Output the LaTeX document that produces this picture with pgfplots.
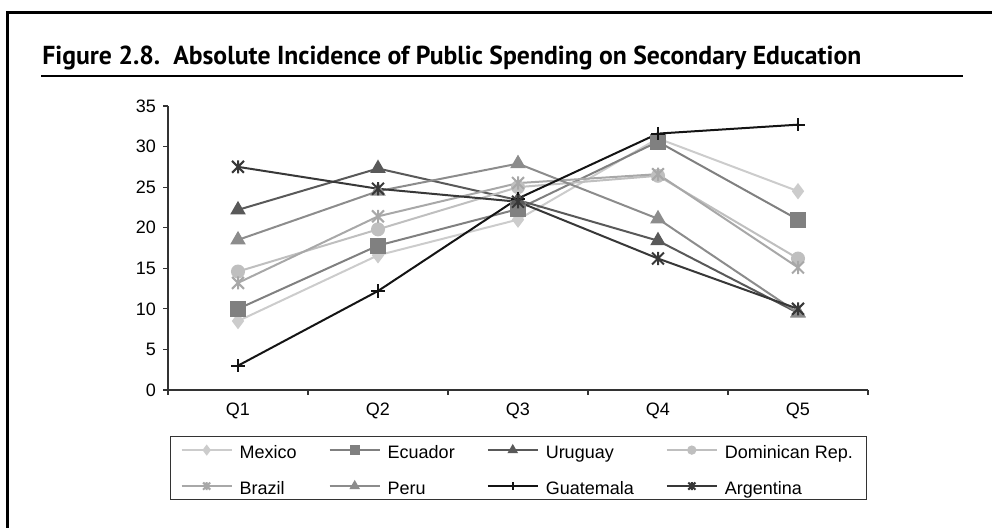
\documentclass[border=0pt]{standalone}
\usepackage{graphicx}
\usepackage{pgfplots}
\pgfplotsset{compat=1.18}
\usepackage{fontspec}
\setmainfont{Liberation Sans}
\newfontfamily\titlefont{PT Sans}
\usetikzlibrary{plotmarks}

% six-armed star: an X with a vertical bar
\pgfdeclareplotmark{xstar}{%
  \pgfpathmoveto{\pgfqpoint{-0.9\pgfplotmarksize}{-0.9\pgfplotmarksize}}%
  \pgfpathlineto{\pgfqpoint{0.9\pgfplotmarksize}{0.9\pgfplotmarksize}}%
  \pgfpathmoveto{\pgfqpoint{-0.9\pgfplotmarksize}{0.9\pgfplotmarksize}}%
  \pgfpathlineto{\pgfqpoint{0.9\pgfplotmarksize}{-0.9\pgfplotmarksize}}%
  \pgfpathmoveto{\pgfqpoint{0pt}{-\pgfplotmarksize}}%
  \pgfpathlineto{\pgfqpoint{0pt}{\pgfplotmarksize}}%
  \pgfusepathqstroke}

\definecolor{cMex}{gray}{0.80}
\definecolor{cEcu}{gray}{0.50}
\definecolor{cUru}{gray}{0.35}
\definecolor{cDom}{gray}{0.75}
\definecolor{cBra}{gray}{0.66}
\definecolor{cPer}{gray}{0.55}
\definecolor{cGua}{gray}{0.08}
\definecolor{cArg}{gray}{0.22}

\begin{document}
\begin{tikzpicture}
\path[use as bounding box] (0,0) rectangle (496pt,-264pt);
% frame
\draw[line width=1.5pt] (3.75pt,-270pt) -- (3.75pt,-6.25pt) -- (502pt,-6.25pt);
% title and rule
\node[anchor=base west, inner sep=0pt] at (21pt,-32.5pt)
  {\resizebox{409.5pt}{\height}{\titlefont\bfseries\fontsize{13}{15}\selectfont Figure 2.8.\ \ Absolute Incidence of Public Spending on Secondary Education}};
\draw[line width=0.65pt] (20.5pt,-38pt) -- (481.5pt,-38pt);

\begin{axis}[
  at={(84pt,-195pt)}, anchor=south west,
  width=350pt, height=142pt, scale only axis,
  xmin=0.5, xmax=5.5, ymin=0, ymax=35,
  axis x line*=bottom, axis y line*=left,
  axis line style={-, draw=black!80, line width=0.6pt},
  ytick={0,5,...,35},
  xtick={0.5,1.5,...,5.5}, xticklabels={},
  extra x ticks={1,2,3,4,5}, extra x tick labels={Q1,Q2,Q3,Q4,Q5},
  extra x tick style={major tick length=0pt},
  tick align=outside, major tick length=2.5pt,
  tick style={draw=black!80, line width=0.6pt},
  tick label style={font=\fontsize{9}{10}\selectfont},
  xticklabel style={yshift=-3pt},
  /pgf/number format/assume math mode=true,
  every axis plot/.append style={line width=1pt, mark size=3pt},
  legend columns=4,
  legend cell align=left,
  legend style={at={(0.003,-0.162)}, anchor=north west,
    draw=black!80, line width=0.6pt,
    font=\fontsize{9}{10}\selectfont,
    inner xsep=5pt, inner ysep=2.75pt, row sep=10pt,
    nodes={inner xsep=2pt, inner ysep=0pt, text height=8pt, text depth=0pt},
    /tikz/every odd column/.append style={column sep=1.5pt},
    /tikz/every even column/.append style={column sep=14pt}},
  legend image code/.code={\draw[mark repeat=2, mark phase=2,
    every mark/.append style={scale=0.6}]
    plot coordinates {(0pt,0pt) (12.5pt,0pt) (25pt,0pt)};},
]
\addplot[color=cMex, mark=diamond*, mark size=3.3pt] coordinates {(1,8.5) (2,16.6) (3,21.0) (4,31.0) (5,24.5)};
\addlegendentry{Mexico}
\addplot[color=cEcu, mark=square*, mark size=3.5pt] coordinates {(1,10.0) (2,17.8) (3,22.3) (4,30.6) (5,21.0)};
\addlegendentry{Ecuador}
\addplot[color=cUru, mark=triangle*, mark size=3.5pt] coordinates {(1,22.2) (2,27.3) (3,23.4) (4,18.4) (5,9.5)};
\addlegendentry{Uruguay}
\addplot[color=cDom, mark=*, mark size=3pt] coordinates {(1,14.6) (2,19.8) (3,25.0) (4,26.4) (5,16.2)};
\addlegendentry{Dominican Rep.}
\addplot[color=cBra, mark=xstar, mark size=3.3pt] coordinates {(1,13.2) (2,21.4) (3,25.5) (4,26.6) (5,15.1)};
\addlegendentry{Brazil}
\addplot[color=cPer, mark=triangle*, mark size=3.5pt] coordinates {(1,18.5) (2,24.5) (3,27.9) (4,21.1) (5,9.5)};
\addlegendentry{Peru}
\addplot[color=cGua, mark=+, mark size=3.3pt] coordinates {(1,3.0) (2,12.2) (3,23.6) (4,31.6) (5,32.7)};
\addlegendentry{Guatemala}
\addplot[color=cArg, mark=xstar, mark size=3.3pt] coordinates {(1,27.5) (2,24.8) (3,23.2) (4,16.2) (5,10.0)};
\addlegendentry{Argentina}
\end{axis}
\end{tikzpicture}
\end{document}
